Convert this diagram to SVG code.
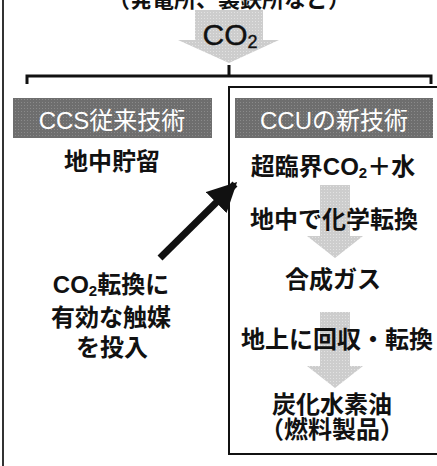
<svg xmlns="http://www.w3.org/2000/svg" width="437" height="466" viewBox="0 0 437 466">
<defs>
<style>
.t{font-family:"Liberation Sans","Noto Sans CJK JP",sans-serif;font-size:24px;font-weight:bold;fill:#111;text-anchor:middle}
.w{fill:#fff;font-weight:normal}
.big{font-weight:normal;font-size:30px}
.ln{stroke:#111;fill:none}
</style>
<pattern id="dots" width="3" height="3" patternUnits="userSpaceOnUse">
<rect width="3" height="3" fill="#6e6e6e"/>
<rect width="1" height="1" fill="#8a8a8a"/>
</pattern>
<pattern id="ldots" width="3" height="3" patternUnits="userSpaceOnUse">
<rect width="3" height="3" fill="#cdcdcd"/>
<rect width="1" height="1" fill="#e2e2e2"/>
</pattern>
<marker id="ah" viewBox="0 0 10 10" refX="9" refY="5" markerWidth="4.2" markerHeight="4.2" orient="auto" markerUnits="strokeWidth">
<path d="M0,0 L10,5 L0,10 z" fill="#111"/>
</marker>
</defs>
<rect width="437" height="466" fill="#fff"/>
<line x1="3" y1="0" x2="3" y2="466" stroke="#333" stroke-width="2"/>
<text class="t" x="229" y="7" style="font-size:22px">（発電所、製鉄所など）</text>

<g id="co2-arrow">
<path d="M195,10 H263 V40 H279 L229,63 L178,40 H195 Z" fill="url(#ldots)"/>
<text class="t big" x="230" y="45" stroke="#111" stroke-width="0.4">CO<tspan font-size="18" dy="3">2</tspan></text>
</g>

<g id="connectors">
<path class="ln" stroke-width="3" d="M27,84 V76 H431 V84 M229,76 V65"/>
<line x1="160" y1="258" x2="235" y2="184" stroke="#111" stroke-width="7" marker-end="url(#ah)"/>
</g>

<g id="ccs">
<rect x="13" y="98" width="199" height="40" fill="url(#dots)"/>
<text class="t w" x="112" y="129">CCS従来技術</text>
<text class="t" x="112" y="170">地中貯留</text>
</g>

<g id="ccu">
<path class="ln" stroke-width="2" d="M440,87 H229 V454 H440"/>
<rect x="235" y="98" width="198" height="40" fill="url(#dots)"/>
<text class="t w" x="334" y="129">CCUの新技術</text>
<path d="M320,185 H350 V236 H363 L335,258 L307,236 H320 Z" fill="url(#ldots)"/>
<path d="M320,312 H350 V366 H363 L335,388 L307,366 H320 Z" fill="url(#ldots)"/>
<text class="t" x="333" y="175">超臨界CO<tspan font-size="15" dy="3">2</tspan><tspan dy="-3">＋水</tspan></text>
<text class="t" x="334" y="228">地中で化学転換</text>
<text class="t" x="333" y="288">合成ガス</text>
<text class="t" x="337" y="348">地上に回収・転換</text>
<text class="t" x="332" y="413">炭化水素油</text>
<text class="t" x="332" y="438">（燃料製品）</text>
</g>

<g id="catalyst">
<text class="t" x="111" y="293">CO<tspan font-size="15" dy="3">2</tspan><tspan dy="-3">転換に</tspan></text>
<text class="t" x="111" y="326">有効な触媒</text>
<text class="t" x="112" y="356">を投入</text>
</g>
</svg>
